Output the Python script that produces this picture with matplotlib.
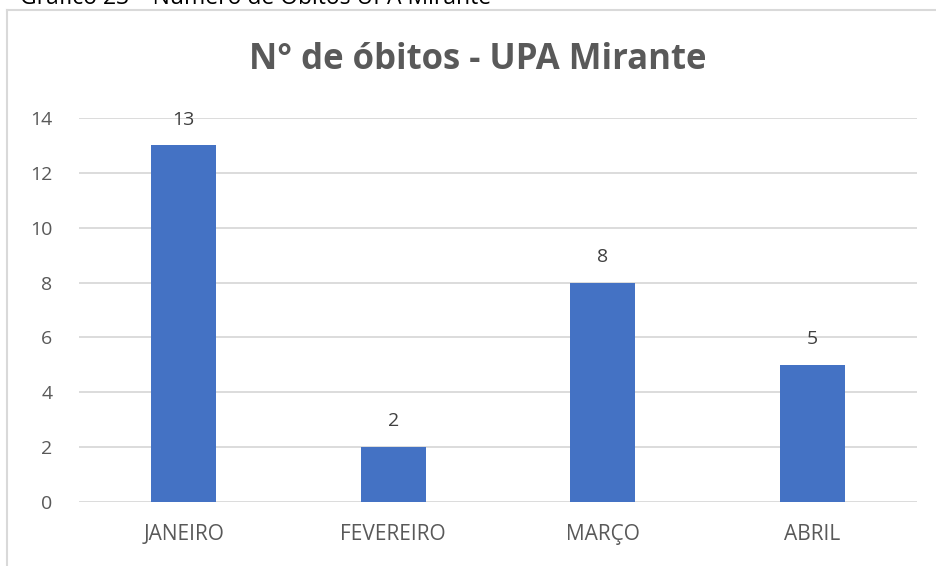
import matplotlib.pyplot as plt
from matplotlib.lines import Line2D

plt.rcParams['font.family'] = ['Open Sans', 'DejaVu Sans']

# data
months = ["JANEIRO", "FEVEREIRO", "MARÇO", "ABRIL"]
obitos = [13, 2, 8, 5]
yticks = [0, 2, 4, 6, 8, 10, 12, 14]

fig = plt.figure(figsize=(9.37, 5.66), dpi=100)
ax = fig.add_axes([79/937, 1 - 502/566, (917 - 79)/937, (502 - 118)/566])

bars = ax.bar(range(len(months)), obitos, width=0.31, color="#4472C4", zorder=3)

# value labels on top of the bars
for x, v in enumerate(obitos):
    ax.annotate(str(v), (x, v), xytext=(0, 12), textcoords="offset points",
                ha="center", va="bottom", fontsize=14, color="#404040")

ax.set_xlim(-0.5, len(months) - 0.5)
ax.set_ylim(0, 14)
ax.set_yticks(yticks)
ax.set_xticks(range(len(months)))
ax.set_xticklabels(months)
ax.grid(axis="y", color="#D9D9D9", linewidth=1.3, zorder=0)
for s in ax.spines.values():
    s.set_visible(False)
ax.tick_params(length=0, labelsize=14, labelcolor="#595959")
ax.tick_params(axis="x", labelsize=15, pad=16)
ax.tick_params(axis="y", pad=19)

fig.text(478/937, 1 - 60/566, "N° de óbitos - UPA Mirante", ha="center", va="center",
         fontsize=25, fontweight="bold", color="#595959")

# caption above the chart frame (cut off at the top of the image)
fig.text(20/937, 1 - 4/566, "Gráfico 23 – Número de Óbitos UPA Mirante", ha="left",
         va="baseline", fontsize=16.5, color="black")

# chart frame
fig.add_artist(Line2D([7/937, 7/937], [0, 1 - 10/566], transform=fig.transFigure,
                      color="#D9D9D9", linewidth=1.5))
fig.add_artist(Line2D([7/937, 1], [1 - 10/566, 1 - 10/566], transform=fig.transFigure,
                      color="#D9D9D9", linewidth=1.5))

fig.savefig("out.png", dpi=100)
